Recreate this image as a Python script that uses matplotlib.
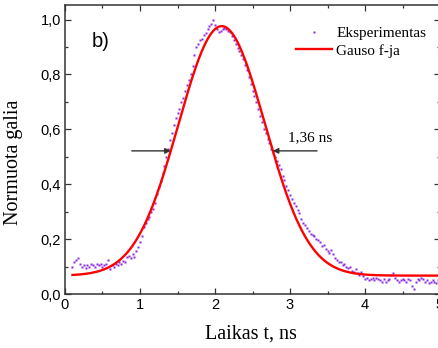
import numpy as np
import matplotlib
matplotlib.use("Agg")
import matplotlib.pyplot as plt
from matplotlib.ticker import MultipleLocator, FuncFormatter

# Measured pulse, sampled every 0.025 ns starting at 0.1 ns
t_start = 0.1
t_step = 0.025
signal = [
    0.100, 0.115, 0.125, 0.130, 0.110, 0.100, 0.105, 0.095, 0.105, 0.100,
    0.110, 0.105, 0.100, 0.110, 0.105, 0.110, 0.100, 0.105, 0.110, 0.125,
    0.090, 0.105, 0.100, 0.110, 0.105, 0.115, 0.110, 0.120, 0.115, 0.135,
    0.140, 0.130, 0.145, 0.135, 0.155, 0.170, 0.190, 0.210, 0.245, 0.260,
    0.275, 0.280, 0.300, 0.310, 0.330, 0.365, 0.390, 0.410, 0.440, 0.465,
    0.500, 0.530, 0.560, 0.585, 0.615, 0.640, 0.660, 0.675, 0.700, 0.715,
    0.740, 0.760, 0.780, 0.800, 0.830, 0.870, 0.900, 0.910, 0.925, 0.930,
    0.945, 0.950, 0.965, 0.975, 0.985, 0.998, 0.980, 0.965, 0.955, 0.960,
    0.965, 0.970, 0.965, 0.960, 0.955, 0.940, 0.925, 0.910, 0.895, 0.885,
    0.870, 0.855, 0.835, 0.815, 0.790, 0.765, 0.740, 0.720, 0.700, 0.675,
    0.650, 0.625, 0.600, 0.585, 0.565, 0.550, 0.530, 0.515, 0.500, 0.485,
    0.470, 0.455, 0.430, 0.415, 0.395, 0.380, 0.360, 0.345, 0.330, 0.320,
    0.305, 0.295, 0.275, 0.260, 0.250, 0.240, 0.230, 0.220, 0.215, 0.210,
    0.200, 0.195, 0.190, 0.175, 0.180, 0.165, 0.155, 0.150, 0.160, 0.145,
    0.130, 0.125, 0.115, 0.115, 0.105, 0.110, 0.100, 0.095, 0.100, 0.085,
    0.080, 0.090, 0.075, 0.070, 0.080, 0.065, 0.055, 0.060, 0.050, 0.055,
    0.060, 0.050, 0.060, 0.055, 0.050, 0.045, 0.055, 0.045, 0.050, 0.055,
    0.070, 0.075, 0.060, 0.050, 0.045, 0.050, 0.055, 0.050, 0.045, 0.055,
    0.050, 0.030, 0.020, 0.045, 0.055, 0.050, 0.060, 0.055, 0.045, 0.050,
    0.040, 0.045, 0.050, 0.045, 0.040, 0.050, 0.045,
]
t = t_start + t_step * np.arange(len(signal))

# Gaussian fit parameters
y0 = 0.067        # baseline
amp = 0.909       # peak height above baseline
tc = 2.09         # centre, ns
fwhm = 1.36       # full width at half maximum, ns

sigma = fwhm / (2 * np.sqrt(2 * np.log(2)))
t_fit = np.linspace(0.1, 5.0, 400)
fit = y0 + amp * np.exp(-(t_fit - tc) ** 2 / (2 * sigma ** 2))

W, H = 439, 348
fig = plt.figure(figsize=(W / 100, H / 100), dpi=100)
ax = fig.add_axes([65 / W, 54 / H, 375 / W, 289 / H])

ax.plot(t, signal, ls="none", marker="s", ms=1.7, mec="none",
        color="#8A2BE2", label="Eksperimentas")
ax.plot(t_fit, fit, color="#FF0000", lw=1.7, label="Gauso f-ja")

ax.set_xlim(0, 5)
ax.set_ylim(0, 1.053)

comma = FuncFormatter(lambda v, p: f"{v:.1f}".replace(".", ","))
intfmt = FuncFormatter(lambda v, p: f"{v:.0f}")
ax.xaxis.set_major_locator(MultipleLocator(1))
ax.xaxis.set_minor_locator(MultipleLocator(0.5))
ax.yaxis.set_major_locator(MultipleLocator(0.2))
ax.yaxis.set_minor_locator(MultipleLocator(0.1))
ax.xaxis.set_major_formatter(intfmt)
ax.yaxis.set_major_formatter(comma)

ax.tick_params(which="both", direction="in", top=True, right=True,
               color="#333333", width=0.9)
ax.tick_params(which="major", length=4.5, labelsize=10.5, pad=3)
ax.tick_params(which="minor", length=2.5)
for lab in ax.get_xticklabels() + ax.get_yticklabels():
    lab.set_fontfamily("Liberation Sans")
for sp in ax.spines.values():
    sp.set_color("#333333")
    sp.set_linewidth(1.1)

serif = "Liberation Serif"
ax.set_xlabel("Laikas t, ns", fontsize=14.5, fontfamily=serif)
ax.set_ylabel("Normuota galia", fontsize=14.5, fontfamily=serif)
ax.xaxis.set_label_coords(0.497, -0.105)
ax.yaxis.set_label_coords(-0.112, 0.457)

ax.text(0.095, 0.875, "b)", transform=ax.transAxes, fontsize=14.5,
        fontfamily="Liberation Sans", ha="center", va="center")

# Half-maximum markers
half = y0 + amp / 2
t_left = tc - fwhm / 2
t_right = tc + fwhm / 2
arrow = dict(arrowstyle="-|>", color="#333333", lw=1.0,
             mutation_scale=8, shrinkA=0, shrinkB=0)
ax.annotate("", xy=(t_left, half), xytext=(0.89, half), arrowprops=arrow)
ax.annotate("", xy=(t_right, half), xytext=(3.36, half), arrowprops=arrow)
ax.text(3.27, 0.568, f"{fwhm:.2f}".replace(".", ",") + " ns", fontsize=11,
        fontfamily=serif, ha="center", va="center")

leg = ax.legend(loc="upper left", bbox_to_anchor=(0.616, 0.925),
                frameon=False, numpoints=1, markerscale=1.0,
                handlelength=2.35, handletextpad=0.3, labelspacing=0.22,
                borderpad=0, borderaxespad=0,
                prop={"family": serif, "size": 11})

fig.savefig("out.png", dpi=100)
